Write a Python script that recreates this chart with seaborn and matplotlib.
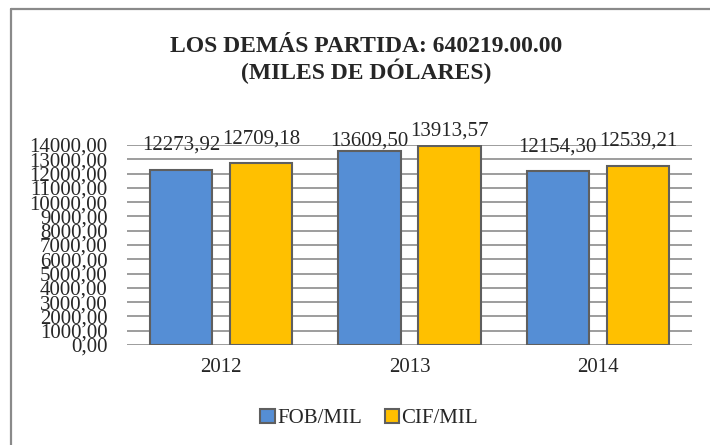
import pandas as pd
import matplotlib.pyplot as plt
import seaborn as sns
from matplotlib.patches import Patch
from matplotlib.lines import Line2D

# Datos
anios = ['2012', '2013', '2014']
fob = [12273.92, 13609.50, 12154.30]
cif = [12709.18, 13913.57, 12539.21]
series = ['FOB/MIL', 'CIF/MIL']
colores = ['#558ED5', '#FFC000']
yticks = list(range(0, 14001, 1000))

df = pd.DataFrame({
    'Año': anios * 2,
    'Valor': fob + cif,
    'Serie': [series[0]] * len(anios) + [series[1]] * len(anios),
})

sns.set_style("white")
plt.rcParams['font.family'] = ['Liberation Serif', 'DejaVu Serif']

fig = plt.figure(figsize=(7.1, 4.45), dpi=100)
ax = fig.add_axes([0.1789, 0.2247, 0.7958, 0.4494])

sns.barplot(data=df, x='Año', y='Valor', hue='Serie', palette=colores,
            saturation=1, width=0.85, gap=0.22, edgecolor='#5f5f5f',
            linewidth=1.5, ax=ax, legend=False, zorder=3)

ax.set_ylim(0, 14000)
ax.set_xlim(-0.5, 2.5)
ax.set_yticks(yticks)
ax.set_yticklabels([f"{v:.2f}".replace('.', ',') for v in yticks])
ax.yaxis.grid(True, color='#8c8c8c', linewidth=1.2, zorder=0)
ax.set_axisbelow(True)
for s in ax.spines.values():
    s.set_visible(False)
ax.tick_params(axis='y', length=0, pad=14, labelsize=15)
ax.tick_params(axis='x', length=0, pad=9, labelsize=15)
ax.set_xlabel('')
ax.set_ylabel('')

# Etiquetas de datos (2013 ajustadas como en el original)
pads = [[11, 0, 11], [11, 4, 11]]
for cont, p in zip(ax.containers, pads):
    labels = [f"{b.get_height():.2f}".replace('.', ',') for b in cont]
    anns = ax.bar_label(cont, labels=labels, padding=0, fontsize=15)
    for a, pp in zip(anns, p):
        a.xyann = (0, pp)

# Leyenda
handles = [Patch(facecolor=c, edgecolor='#5f5f5f', linewidth=1.5, label=s)
           for c, s in zip(colores, series)]
fig.legend(handles=handles, loc='center', bbox_to_anchor=(0.52, 0.06),
           ncol=2, frameon=False, fontsize=15, handlelength=0.7,
           handleheight=0.7, handletextpad=0.1, columnspacing=1.1)

# Título
fig.text(0.5155, 0.895, 'LOS DEMÁS PARTIDA: 640219.00.00', ha='center',
         va='center', fontsize=17, fontweight='bold')
fig.text(0.5155, 0.84, '(MILES DE DÓLARES)', ha='center', va='center',
         fontsize=17, fontweight='bold')

# Marco
fig.add_artist(Line2D([0.0148, 0.0148], [0, 0.98], transform=fig.transFigure,
                      color='#8a8a8a', linewidth=1.6))
fig.add_artist(Line2D([0.0148, 1], [0.98, 0.98], transform=fig.transFigure,
                      color='#8a8a8a', linewidth=1.6))

plt.savefig('out.png', dpi=100)
plt.close()
